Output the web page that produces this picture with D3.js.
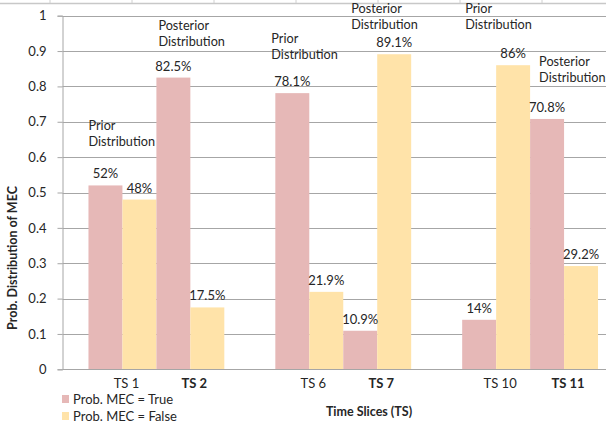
<!DOCTYPE html>
<html>
<head>
<meta charset="utf-8">
<script src="https://d3js.org/d3.v7.min.js"></script>
<style>
  body { margin: 0; background: #fff; }
  text { font-family: Lato, "Open Sans", sans-serif; fill: #262626; }
</style>
</head>
<body>
<div id="chart"></div>
<script>
// time slices, grouped in pairs (second of each pair is bold on the axis)
var groups = ["G1", "G2", "G3"];
var slices = [["TS 1", "TS 2"], ["TS 6", "TS 7"], ["TS 10", "TS 11"]];
var probTrue = [[0.52, 0.825], [0.781, 0.109], [0.14, 0.708]];
var probFalse = [[0.48, 0.175], [0.219, 0.891], [0.86, 0.292]];
var valueLabels = [["52%", "48%", "82.5%", "17.5%"], ["78.1%", "21.9%", "10.9%", "89.1%"], ["14%", "86%", "70.8%", "29.2%"]];
// annotation per slice: which one is prior / posterior
var notes = [["Prior", "Posterior"], ["Prior", "Posterior"], ["Prior", "Posterior"]];
var yTicks = [0, 0.1, 0.2, 0.3, 0.4, 0.5, 0.6, 0.7, 0.8, 0.9, 1];
var seriesNames = ["Prob. MEC = True", "Prob. MEC = False"];

var width = 606, height = 426;
var colors = {true: "#E6B8B7", false: "#FFE3A9"};

var svg = d3.select("#chart").append("svg")
    .attr("width", width)
    .attr("height", height);

svg.append("rect").attr("width", width).attr("height", height).attr("fill", "#fff");

// top border from the table above (cropped)
svg.append("line")
    .attr("x1", 0).attr("x2", width)
    .attr("y1", 3.5).attr("y2", 3.5)
    .attr("stroke", "#c8c8c8").attr("stroke-width", 1.5);
svg.selectAll(".topTick")
    .data(d3.range(50, width, 82))
    .enter().append("line")
    .attr("x1", d => d).attr("x2", d => d)
    .attr("y1", 0).attr("y2", 3)
    .attr("stroke", "#d0d0d0");

var plotLeft = 62.5, plotTop = 15.7, plotBottom = 369.3;

var yScale = d3.scaleLinear().domain([0, 1]).range([plotBottom, plotTop]);

// outer band for the three pairs, runs past the cropped right edge
var xGroup = d3.scaleBand()
    .domain(groups)
    .range([plotLeft, 624])
    .paddingInner(0.273)
    .paddingOuter(0.139);

// inner band: 4 bars per pair
var xBar = d3.scaleBand()
    .domain([0, 1, 2, 3])
    .range([0, xGroup.bandwidth()]);

// gridlines
svg.append("g")
    .selectAll("line")
    .data(yTicks.slice(1))
    .enter().append("line")
    .attr("x1", plotLeft).attr("x2", width)
    .attr("y1", d => Math.round(yScale(d)) + 0.5)
    .attr("y2", d => Math.round(yScale(d)) + 0.5)
    .attr("stroke", "#a6a6a6");

// y axis
var yAxis = d3.axisLeft(yScale)
    .tickValues(yTicks)
    .tickSize(5)
    .tickFormat(d => d === 0 || d === 1 ? d3.format("d")(d) : d3.format(".1f")(d));
var yG = svg.append("g")
    .attr("transform", `translate(${plotLeft}, 0)`)
    .call(yAxis);
yG.select(".domain").attr("stroke", "#a6a6a6");
yG.selectAll(".tick line").attr("stroke", "#a6a6a6");
yG.selectAll(".tick text")
    .attr("x", -16)
    .style("font-family", "Lato, sans-serif")
    .style("font-size", "13px")
    .attr("fill", "#262626");

// flatten bars
var bars = [];
groups.forEach((g, gi) => {
    slices[gi].forEach((s, si) => {
        bars.push({group: g, gi: gi, slot: si * 2, kind: "true", value: probTrue[gi][si], slice: s});
        bars.push({group: g, gi: gi, slot: si * 2 + 1, kind: "false", value: probFalse[gi][si], slice: s});
    });
});

svg.selectAll(".bar")
    .data(bars)
    .enter().append("rect")
    .attr("class", "bar")
    .attr("x", d => xGroup(d.group) + xBar(d.slot))
    .attr("width", xBar.bandwidth())
    .attr("y", d => yScale(d.value))
    .attr("height", d => plotBottom - yScale(d.value))
    .attr("fill", d => colors[d.kind]);

// x axis baseline
svg.append("line")
    .attr("x1", plotLeft).attr("x2", width)
    .attr("y1", Math.round(plotBottom) + 0.5).attr("y2", Math.round(plotBottom) + 0.5)
    .attr("stroke", "#a6a6a6");

// value labels above bars
svg.selectAll(".valLabel")
    .data(bars)
    .enter().append("text")
    .attr("class", "valLabel")
    .attr("x", d => xGroup(d.group) + xBar(d.slot) + xBar.bandwidth() / 2)
    .attr("y", d => yScale(d.value) - 7)
    .attr("text-anchor", "middle")
    .style("font-size", "13px")
    .text(d => valueLabels[d.gi][d.slot]);

// slice labels under each pair
var sliceLabels = [];
groups.forEach((g, gi) => slices[gi].forEach((s, si) => sliceLabels.push({group: g, si: si, name: s})));
svg.selectAll(".sliceLabel")
    .data(sliceLabels)
    .enter().append("text")
    .attr("class", "sliceLabel")
    .attr("x", d => xGroup(d.group) + xBar(d.si * 2 + 1) + 4)
    .attr("y", 388)
    .attr("text-anchor", "middle")
    .style("font-size", "13px")
    .style("font-weight", d => d.si === 1 ? "bold" : "normal")
    .text(d => d.name);

// prior / posterior annotations, placed above the taller bar of each slice
var noteData = [];
groups.forEach((g, gi) => slices[gi].forEach((s, si) => {
    noteData.push({group: g, si: si, gi: gi, label: notes[gi][si],
        top: Math.max(probTrue[gi][si], probFalse[gi][si])});
}));
// hand nudges [dx, dy] as in the original slide
var noteOffsets = [[[0, 55], [2, 48]], [[-4, 50], [8, 41.5]], [[3, 52], [9, 53]]];
var noteG = svg.selectAll(".note")
    .data(noteData)
    .enter().append("text")
    .attr("class", "note")
    .style("font-size", "12.7px")
    .attr("transform", d => {
        var off = noteOffsets[d.gi][d.si];
        var x = xGroup(d.group) + xBar(d.si * 2) + off[0];
        return `translate(${x}, ${yScale(d.top) - off[1]})`;
    });
noteG.append("tspan").attr("x", 0).attr("y", 0).text(d => d.label);
noteG.append("tspan").attr("x", 0).attr("y", 16).text("Distribution");

// axis titles
svg.append("text")
    .attr("transform", "translate(17, 258) rotate(-90)")
    .attr("text-anchor", "middle")
    .style("font-size", "12.5px")
    .style("font-weight", "bold")
    .text("Prob. Distribution of MEC");

svg.append("text")
    .attr("x", 369)
    .attr("y", 416)
    .attr("text-anchor", "middle")
    .style("font-size", "12.5px")
    .style("font-weight", "bold")
    .text("Time Slices (TS)");

// legend
var legend = svg.selectAll(".legend")
    .data(seriesNames)
    .enter().append("g")
    .attr("class", "legend")
    .attr("transform", (d, i) => `translate(62, ${395 + i * 17})`);
legend.append("rect")
    .attr("width", 7).attr("height", 8)
    .attr("fill", (d, i) => i === 0 ? colors.true : colors.false);
legend.append("text")
    .attr("x", 11).attr("y", 8.5)
    .style("font-size", "13px")
    .text(d => d);
</script>
</body>
</html>
